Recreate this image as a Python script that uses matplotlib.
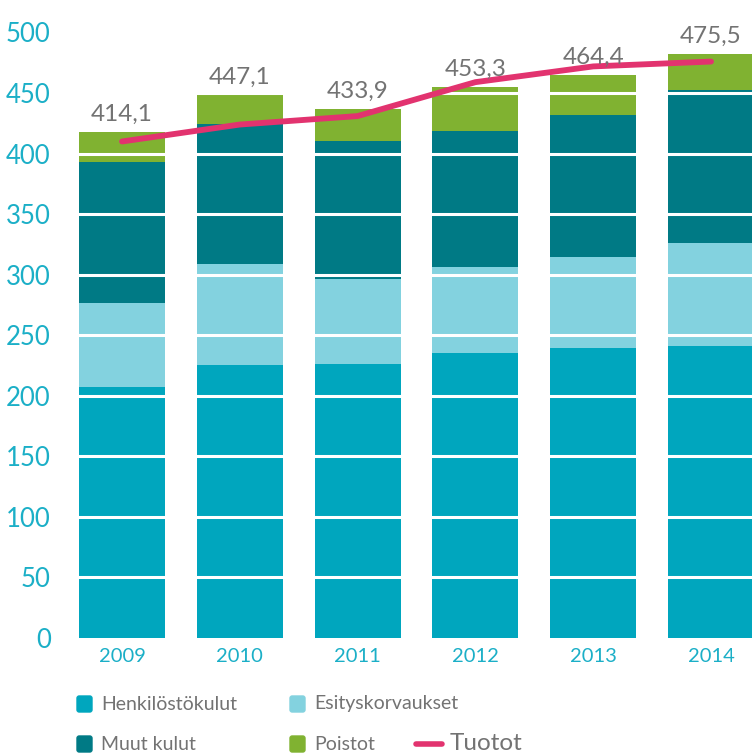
import numpy as np
import matplotlib
matplotlib.use("Agg")
import matplotlib.pyplot as plt
from matplotlib.patches import FancyBboxPatch
from matplotlib.lines import Line2D

plt.rcParams['font.family'] = ['Lato', 'DejaVu Sans']

# Data (milj. euroa)
vuodet = ['2009', '2010', '2011', '2012', '2013', '2014']
henkilostokulut = [206.9, 225.4, 226.2, 235.4, 239.2, 241.5]
esityskorvaukset = [69.4, 83.7, 70.4, 70.7, 75.2, 84.3]
muut_kulut = [116.6, 115.1, 113.6, 112.7, 117.6, 127.1]
poistot = [25.1, 24.2, 26.5, 36.0, 33.1, 29.6]
tuotot = [410.0, 424.0, 431.0, 459.0, 472.0, 476.0]
summat = [414.1, 447.1, 433.9, 453.3, 464.4, 475.5]

sarjat = ['Henkilöstökulut', 'Esityskorvaukset', 'Muut kulut', 'Poistot']
arvot = [henkilostokulut, esityskorvaukset, muut_kulut, poistot]
varit = ['#00A6BE', '#83D2DF', '#007A85', '#80B231']
c_line = '#E2336F'
c_tick = '#1BAFC7'
c_grey = '#737373'

W, H = 752, 756
fig = plt.figure(figsize=(W/100, H/100), dpi=100)
ax = fig.add_axes([55/W, 118/H, (W-55)/W, 520*1.211/H])

x = np.arange(len(vuodet))
pohja = np.zeros(len(vuodet))
for nimi, v, c in zip(sarjat, arvot, varit):
    ax.bar(x, v, 0.73, bottom=pohja, color=c, zorder=1, label=nimi)
    pohja = pohja + np.array(v)

# valkoiset apuviivat palkkien paalla
ticks = np.arange(0, 501, 50)
ax.hlines(ticks[1:], -1, 6, colors='white', linewidth=2.2, zorder=2)

ax.plot(x, tuotot, color=c_line, linewidth=4.2, solid_capstyle='round',
        solid_joinstyle='round', zorder=3)

for xi, top, s in zip(x, pohja, summat):
    ax.annotate(f"{s:.1f}".replace('.', ','), (xi, top), xytext=(0, 8),
                textcoords='offset points', ha='center', va='baseline',
                fontsize=17.5, color=c_grey, annotation_clip=False)

ax.set_xlim(-0.569, 5.348)
ax.set_ylim(0, 520)
ax.set_yticks(ticks)
ax.set_xticks(x)
ax.set_xticklabels(vuodet)
ax.tick_params(axis='y', length=0, pad=3, labelsize=18.5, labelcolor=c_tick)
ax.tick_params(axis='x', length=0, pad=7, labelsize=14.5, labelcolor=c_tick)
for s in ax.spines.values():
    s.set_visible(False)

# selite
sel_x = [77, 290, 77, 290]
sel_y = [704, 704, 744, 744]
for nimi, c, lx, ly in zip(sarjat, varit, sel_x, sel_y):
    fig.add_artist(FancyBboxPatch(((lx)/W, (H-ly-8)/H), 15/W, 16/H,
                                  boxstyle='round,pad=0,rounding_size=0.003',
                                  transform=fig.transFigure, color=c))
    fig.text((lx+24)/W, (H-ly)/H, nimi, fontsize=14, color=c_grey,
             va='center', ha='left')
fig.add_artist(Line2D([416/W, 442/W], [(H-744)/H]*2, color=c_line,
                      linewidth=4, solid_capstyle='round',
                      transform=fig.transFigure))
fig.text(450/W, (H-743)/H, 'Tuotot', fontsize=17.5, color=c_grey,
         va='center', ha='left')

fig.savefig('out.png', dpi=100)
